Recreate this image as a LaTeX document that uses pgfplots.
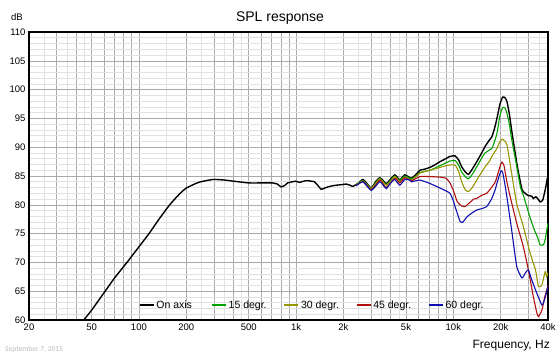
\documentclass[border=0pt]{standalone}
\usepackage{fontspec}
\setmainfont{Liberation Sans}
\newfontfamily\datefont{Carlito}
\usepackage{pgfplots}
\pgfplotsset{compat=1.18}
\definecolor{cgreen}{RGB}{0,160,0}
\definecolor{colive}{RGB}{150,150,0}
\definecolor{cred}{RGB}{175,15,15}
\definecolor{cblue}{RGB}{15,15,175}
\definecolor{gmaj}{RGB}{170,170,170}
\definecolor{gmin}{RGB}{225,225,225}
\begin{document}
\begin{tikzpicture}
\path[use as bounding box] (0pt,0pt) rectangle (560pt,-356pt);
\begin{axis}[
  at={(29pt,-320pt)}, anchor=south west,
  width=519pt, height=288pt, scale only axis,
  xmode=log, xmin=20, xmax=40000, ymin=60, ymax=110,
  xtick={20,30,40,50,60,70,80,90,100,200,300,400,500,600,700,800,900,1000,2000,3000,4000,5000,6000,7000,8000,9000,10000,20000,30000,40000},
  xticklabels={20,{},{},50,{},{},{},{},100,200,{},{},500,{},{},{},{},1k,2k,{},{},5k,{},{},{},{},10k,20k,{},40k},
  minor xtick={25,35,45,150,250,350,450,1500,2500,3500,4500,15000,25000,35000},
  ytick={60,65,...,110},
  minor ytick={61,62,63,64,66,67,68,69,71,72,73,74,76,77,78,79,81,82,83,84,86,87,88,89,91,92,93,94,96,97,98,99,101,102,103,104,106,107,108,109},
  grid=both,
  major grid style={gmaj, line width=0.6pt},
  minor grid style={gmin, line width=0.6pt},
  major tick length=0pt, minor tick length=0pt,
  axis line style={black, line width=1.3pt},
  /pgf/number format/assume math mode=true,
  ticklabel style={font=\fontsize{9.5}{11}\selectfont},
  legend style={at={(0.206,0.052)}, anchor=west, draw=none, fill=none,
    legend columns=5, font=\fontsize{10.5}{12}\selectfont,
    /tikz/every even column/.append style={column sep=0pt}},
  legend cell align=left,
  legend image code/.code={\draw[#1, line width=1.3pt] (0pt,0pt) -- (14pt,0pt);},
]
% On axis
\addplot[black, line width=1.4pt, smooth, tension=0.3] coordinates {
(44.6,60) (50,61.7) (61,65) (70,67.3) (84,70) (100,72.7) (116,75) (135,77.6) (157,80) (180,81.8) (200,82.9) (240,83.9) (296,84.4) (350,84.3) (400,84.1) (500,83.8) (600,83.8) (706,83.8) (760,83.6) (802,83.1) (850,83.4) (884,83.8) (990,84.1) (1049,83.9) (1158,84.2) (1250,84.1) (1309,84.0) (1380,83.3) (1444,82.7) (1520,82.9) (1591,83.1) (1700,83.3) (1800,83.4) (1950,83.5) (2085,83.6) (2200,83.4) (2296,83.2) (2470,83.7) (2660,84.4) (2800,83.8) (3010,82.9) (3200,84.0) (3399,84.7) (3550,84.3) (3749,83.7) (4000,84.5) (4240,85.2) (4400,84.8) (4564,84.3) (4914,85.2) (5150,84.9) (5420,84.6) (5800,85.3) (6124,86.0) (6600,86.2) (7100,86.5) (7600,86.9) (8240,87.5) (8800,87.9) (9520,88.4) (10250,88.5) (10800,87.8) (11300,86.6) (12000,85.6) (12490,85.3) (13200,86.2) (14100,87.5) (15000,88.8) (15910,90.1) (16800,91.1) (17570,91.8) (18300,93.3) (18940,95.0) (19800,97.5) (20590,98.7) (21300,98.6) (21940,97.9) (22700,95.8) (23470,93.0) (24400,90.0) (25340,87.2) (26300,84.8) (27370,82.6) (28600,82.0) (30000,81.6) (31500,81.5) (32300,81.1) (33500,81.4) (34800,80.9) (35700,80.5) (37000,80.8) (38400,82.6) (40000,85.2)};
\addlegendentry{\makebox[53pt][l]{On axis}}
% 15 degr
\addplot[cgreen, line width=1.1pt, smooth, tension=0.3] coordinates {
(2400,83.5) (2660,84.2) (2800,83.6) (3010,82.8) (3200,83.8) (3399,84.6) (3550,84.1) (3749,83.5) (4000,84.3) (4240,85.0) (4564,84.2) (4914,85.0) (5420,84.5) (5800,85.0) (6124,85.6) (7100,86.0) (8240,86.8) (9520,87.6) (10250,87.7) (10800,86.9) (11300,85.7) (12000,84.8) (12490,84.5) (13200,85.3) (14100,86.6) (15000,87.9) (15910,89.0) (17570,89.8) (18300,91.0) (18940,92.4) (19800,95.5) (20590,96.9) (21300,96.8) (21940,95.9) (22700,94.0) (23470,91.5) (24400,89.0) (25340,86.6) (26700,83.1) (28000,81.5) (29300,79.7) (31000,77.5) (32800,75.6) (34500,74.2) (35700,73.0) (37500,73.1) (38400,74.0) (40000,76.8)};
\addlegendentry{\makebox[53pt][l]{15 degr.}}
% 30 degr
\addplot[colive, line width=1.1pt, smooth, tension=0.3] coordinates {
(2400,83.4) (2660,84.1) (3010,82.8) (3399,84.5) (3749,83.4) (4240,84.9) (4564,84.0) (4914,84.8) (5420,84.3) (6124,85.5) (7100,86.0) (8240,86.5) (9000,86.8) (9520,86.9) (10250,86.9) (10800,85.8) (11300,84.0) (11900,82.6) (12490,82.3) (13200,83.0) (14100,84.3) (15000,85.5) (15910,86.6) (17000,87.6) (17570,88.4) (18940,89.8) (19800,91.0) (20590,91.4) (21300,91.0) (21940,90.4) (22700,88.0) (23470,85.5) (25300,80.2) (27900,76.2) (30800,71.6) (33300,68.7) (34800,65.8) (36600,66.1) (38400,68.4) (39200,67.5) (40000,68.2)};
\addlegendentry{\makebox[53pt][l]{30 degr.}}
% 45 degr
\addplot[cred, line width=1.1pt, smooth, tension=0.3] coordinates {
(2400,83.3) (2660,84.0) (3010,82.6) (3399,84.3) (3600,83.5) (3749,83.0) (4240,84.6) (4564,83.8) (4914,84.7) (5420,84.2) (6124,84.9) (7100,84.9) (8240,84.8) (9000,84.6) (9520,83.8) (10000,82.5) (10600,80.5) (11300,79.8) (11900,79.7) (12500,80.2) (13500,81.0) (14100,81.1) (15000,81.6) (16300,82.0) (17500,83.0) (18500,84.0) (19300,85.6) (20000,87.0) (20400,87.4) (21000,86.8) (21900,84.0) (23000,81.4) (25300,76.8) (27900,72.7) (30000,68.7) (32300,64.0) (34000,61.2) (34800,60.6) (36600,61.7) (38000,63.8) (40000,66.0)};
\addlegendentry{\makebox[53pt][l]{45 degr.}}
% 60 degr
\addplot[cblue, line width=1.1pt, smooth, tension=0.3] coordinates {
(2400,83.3) (2660,84.0) (3010,82.5) (3399,84.0) (3600,83.3) (3749,82.8) (4000,83.8) (4240,84.4) (4564,83.4) (4914,84.4) (5270,84.3) (5420,84.0) (6124,84.3) (7100,83.7) (8240,82.9) (9000,82.4) (9520,82.0) (10000,80.7) (10250,79.7) (11050,77.1) (11500,77.0) (12200,77.9) (13000,78.5) (14100,79.1) (15000,79.3) (16300,79.7) (17500,81.0) (18440,82.6) (19300,84.5) (20100,85.9) (20600,85.6) (21300,83.5) (21900,81.4) (23500,75.6) (25300,69.3) (27300,67.3) (28600,68.1) (30000,68.7) (31500,67.0) (33900,64.7) (36600,62.6) (38000,63.5) (40000,65.8)};
\addlegendentry{\makebox[53pt][l]{60 degr.}}
\end{axis}
\node[anchor=base, font=\fontsize{14}{16}\selectfont] at (280pt,-21.7pt) {SPL response};
\node[anchor=base west, inner sep=0pt, font=\fontsize{9.5}{11}\selectfont] at (11pt,-20pt) {dB};
\node[anchor=base east, inner sep=0pt, font=\fontsize{12}{14}\selectfont] at (550pt,-348.3pt) {Frequency, Hz};
\node[anchor=base west, inner sep=0pt, text=gray!55, font=\datefont\fontsize{7.5}{9}\selectfont] at (5pt,-351pt) {September 7, 2015};
\end{tikzpicture}
\end{document}
